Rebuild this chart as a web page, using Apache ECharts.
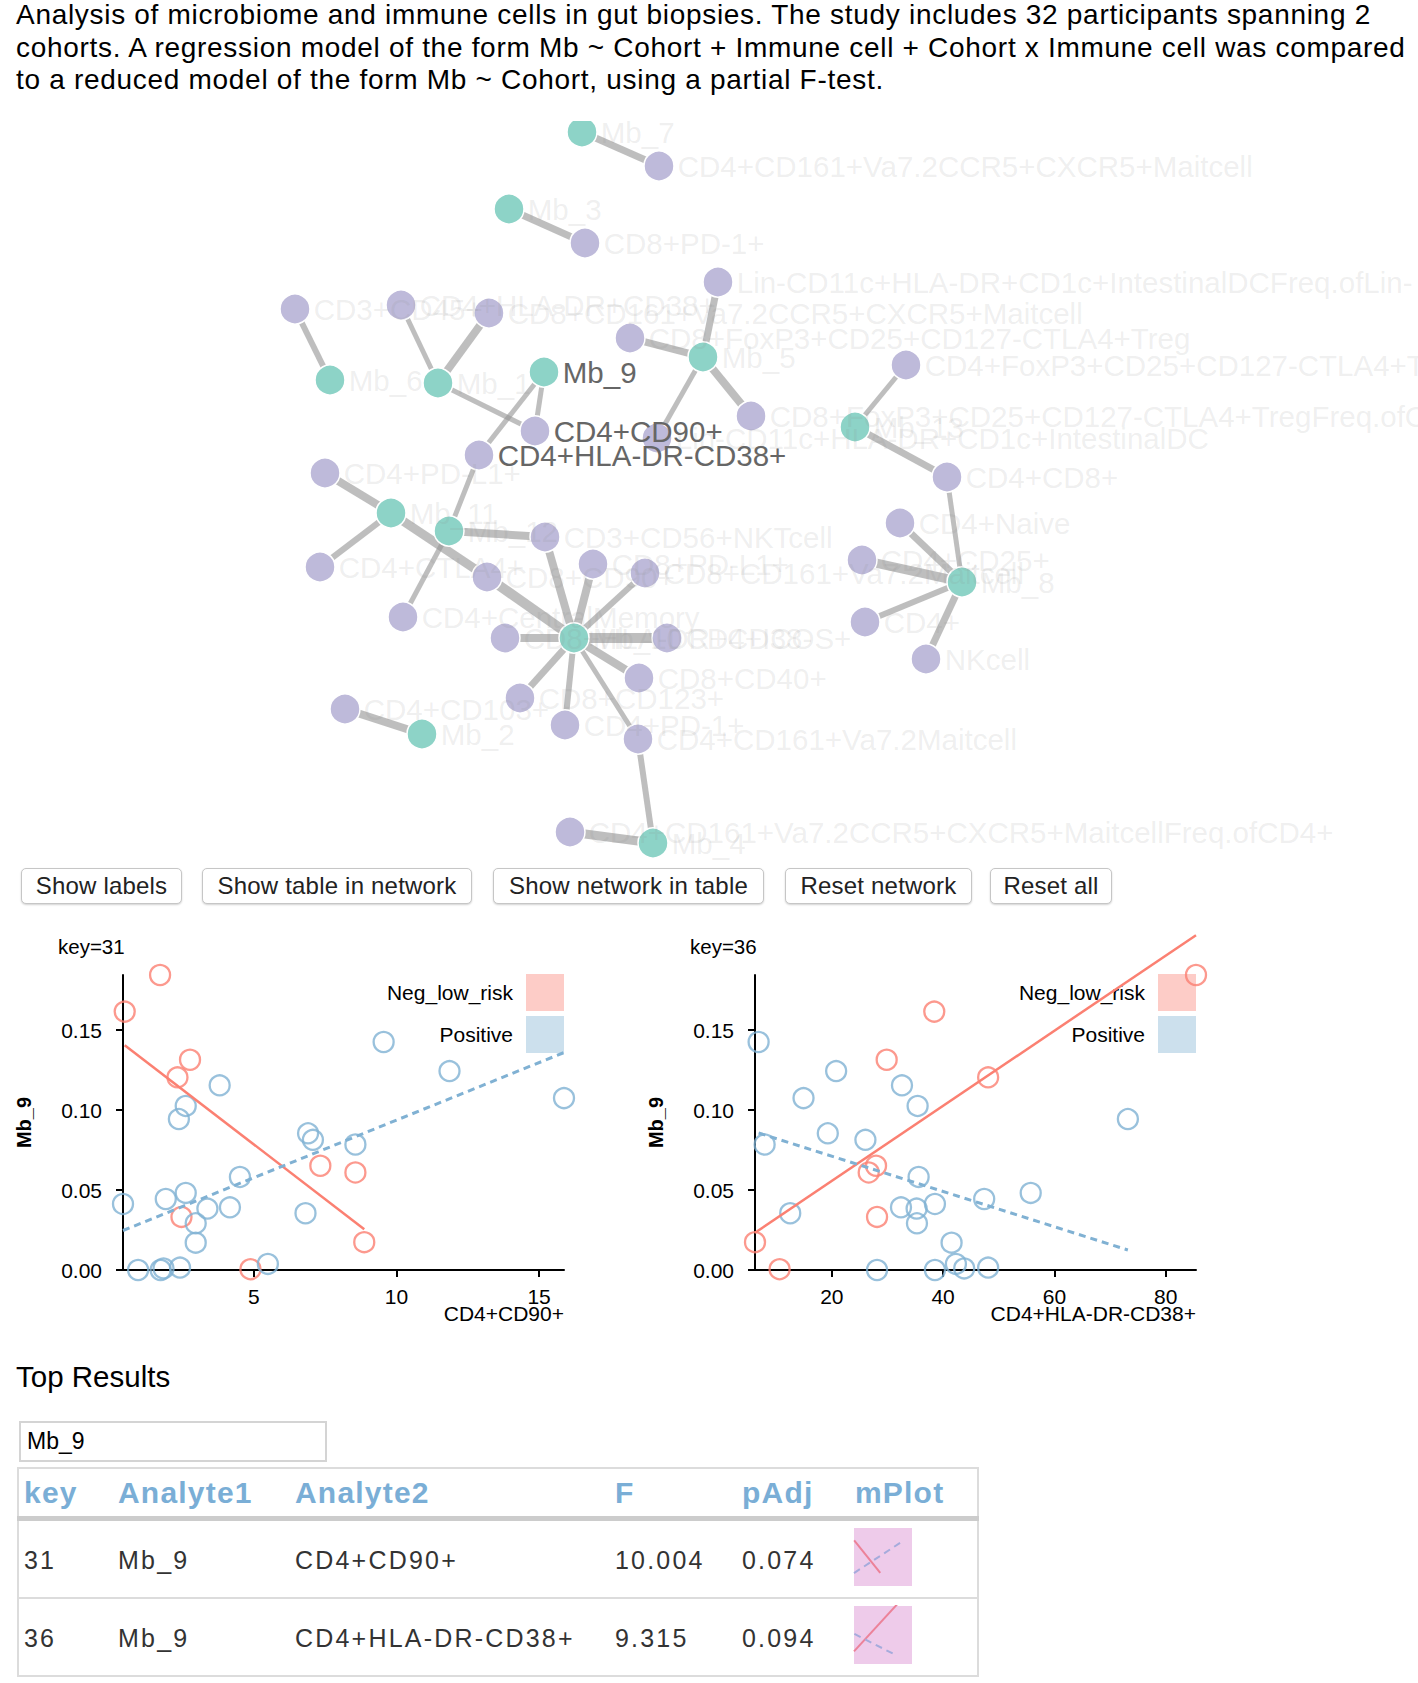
<!DOCTYPE html>
<html>
<head>
<meta charset="utf-8">
<script src="https://cdn.jsdelivr.net/npm/echarts@6/dist/echarts.min.js"></script>
<style>
html,body{margin:0;padding:0;background:#fff;}
body{width:1418px;height:1683px;overflow:hidden;position:relative;font-family:'Liberation Sans',Arial,Helvetica,sans-serif;}
#chart{position:absolute;left:0;top:0;width:1418px;height:1683px;z-index:1;}
#title{position:absolute;left:0;top:0;width:1418px;height:121px;background:#fff;z-index:3;overflow:hidden;}
#title div{position:absolute;left:16px;top:-1px;font-size:28px;line-height:32.5px;letter-spacing:0.7px;white-space:nowrap;color:#000;}
.btn{position:absolute;top:868px;height:36px;box-sizing:border-box;border:1px solid #c6c6c6;border-radius:5px;background:#fff;box-shadow:0 1px 2px rgba(0,0,0,0.18);font-size:24px;line-height:34px;text-align:center;color:#222;z-index:2;white-space:nowrap;letter-spacing:0.2px;}
.ui{position:absolute;z-index:2;white-space:nowrap;}
.th{font-weight:bold;font-size:30px;line-height:30px;top:1478px;color:#7aaed6;letter-spacing:1.2px;}
.td{font-size:25px;line-height:26px;color:#333;letter-spacing:2.2px;}
</style>
</head>
<body>
<div id="chart"></div>
<div id="title"><div>Analysis of microbiome and immune cells in gut biopsies. The study includes 32 participants spanning 2<br>cohorts. A regression model of the form Mb ~ Cohort + Immune cell + Cohort x Immune cell was compared<br>to a reduced model of the form Mb ~ Cohort, using a partial F-test.</div></div>

<div class="btn" style="left:21px;width:161px;">Show labels</div>
<div class="btn" style="left:202px;width:270px;">Show table in network</div>
<div class="btn" style="left:493px;width:271px;">Show network in table</div>
<div class="btn" style="left:785px;width:187px;">Reset network</div>
<div class="btn" style="left:990px;width:122px;">Reset all</div>

<div class="ui" style="left:16px;top:1362px;font-size:29.5px;line-height:30px;color:#000;">Top Results</div>
<div class="ui" style="left:19px;top:1421px;width:308px;height:41px;box-sizing:border-box;border:2px solid #d4d4d4;background:#fff;font-size:23px;line-height:37px;padding-left:6px;color:#000;">Mb_9</div>

<div class="ui" style="left:17px;top:1467px;width:962px;height:210px;box-sizing:border-box;border:2px solid #dcdcdc;z-index:0;"></div>
<div class="ui" style="left:17px;top:1516px;width:962px;height:5px;background:#cccccc;"></div>
<div class="ui" style="left:17px;top:1597px;width:962px;height:2px;background:#dcdcdc;"></div>
<div id="table"></div>

<script>
// ---------------- network data ----------------
const nodeNames = [
  'Mb_7','Mb_3','Mb_6','Mb_1','Mb_9','Mb_5','Mb_13','Mb_11','Mb_12','Mb_10','Mb_8','Mb_2','Mb_4',
  'CD4+CD161+Va7.2CCR5+CXCR5+Maitcell','CD8+PD-1+','Lin-CD11c+HLA-DR+CD1c+IntestinalDCFreq.ofLin-',
  'CD3+CD45+','CD4+HLA-DR+CD38+','CD8+CD161+Va7.2CCR5+CXCR5+Maitcell','CD8+FoxP3+CD25+CD127-CTLA4+Treg',
  'CD8+FoxP3+CD25+CD127-CTLA4+TregFreq.ofCD8+','CD4+FoxP3+CD25+CD127-CTLA4+TregFreq.ofCD4+','CD4+CD90+',
  'Lin-CD11c+HLA-DR+CD1c+IntestinalDC','CD4+HLA-DR-CD38+','CD4+CD8+','CD4+PD-L1+','CD4+Naive',
  'CD3+CD56+NKTcell','CD8+PD-L1+','CD8+CD161+Va7.2Maitcell','CD4+CTLA4+','CD8+CD90+','CD4+CD25+',
  'CD4+CentralMemory','CD8+HLA-DR+CD38-','CD4+ICOS+','CD4+','CD8+CD40+','NKcell','CD8+CD123+',
  'CD4+CD103+','CD4+PD-1+','CD4+CD161+Va7.2Maitcell','CD4+CD161+Va7.2CCR5+CXCR5+MaitcellFreq.ofCD4+'
];
const nodeKind = [
  'mb','mb','mb','mb','mb','mb','mb','mb','mb','mb','mb','mb','mb',
  'cell','cell','cell','cell','cell','cell','cell','cell','cell','cell','cell','cell','cell','cell','cell',
  'cell','cell','cell','cell','cell','cell','cell','cell','cell','cell','cell','cell','cell','cell','cell','cell','cell'
];
// node layout positions (layout units)
const nodeX = [582,509,330,438,544,703,855,391,449,574,962,422,653,
  659,585,718,295,401,489,630,751,906,535,657,479,947,325,900,545,593,645,320,487,862,403,505,667,865,639,926,520,345,565,638,570];
const nodeY = [132,209,380,383,372,357,427,513,531,638,582,734,843,
  166,243,282,309,305,313,338,416,365,431,438,455,477,473,523,537,564,573,567,577,560,617,638,638,622,678,659,698,709,725,739,832];

const edgeSource = ['Mb_7','Mb_3','Mb_6','Mb_1','Mb_1','Mb_1','Mb_9','Mb_9','Mb_5','Mb_5','Mb_5','Mb_5',
  'Mb_13','Mb_13','Mb_8','Mb_8','Mb_8','Mb_8','Mb_8','Mb_11','Mb_11','Mb_11','Mb_12','Mb_12','Mb_12',
  'Mb_10','Mb_10','Mb_10','Mb_10','Mb_10','Mb_10','Mb_10','Mb_10','Mb_10','Mb_10','Mb_2','Mb_4','Mb_4'];
const edgeTarget = ['CD4+CD161+Va7.2CCR5+CXCR5+Maitcell','CD8+PD-1+','CD3+CD45+','CD4+HLA-DR+CD38+',
  'CD8+CD161+Va7.2CCR5+CXCR5+Maitcell','CD4+CD90+','CD4+CD90+','CD4+HLA-DR-CD38+',
  'Lin-CD11c+HLA-DR+CD1c+IntestinalDCFreq.ofLin-','CD8+FoxP3+CD25+CD127-CTLA4+Treg',
  'CD8+FoxP3+CD25+CD127-CTLA4+TregFreq.ofCD8+','Lin-CD11c+HLA-DR+CD1c+IntestinalDC',
  'CD4+FoxP3+CD25+CD127-CTLA4+TregFreq.ofCD4+','CD4+CD8+','CD4+CD8+','CD4+Naive','CD4+CD25+','CD4+','NKcell',
  'CD4+PD-L1+','CD4+CTLA4+','CD8+CD90+','CD4+HLA-DR-CD38+','CD3+CD56+NKTcell','CD4+CentralMemory',
  'CD3+CD56+NKTcell','CD8+PD-L1+','CD8+CD161+Va7.2Maitcell','CD8+CD90+','CD8+HLA-DR+CD38-','CD4+ICOS+',
  'CD8+CD40+','CD8+CD123+','CD4+PD-1+','CD4+CD161+Va7.2Maitcell','CD4+CD103+','CD4+CD161+Va7.2Maitcell',
  'CD4+CD161+Va7.2CCR5+CXCR5+MaitcellFreq.ofCD4+'];
const edgeStrength = [7,7,6,5,8,5,5,5,7,7,8,5,5,7,5,7,9,6,7,8,6,9,5,8,5,8,8,6,10,8,10,8,7,6,5,8,6,9];

const selectedNodes = ['Mb_9','CD4+CD90+','CD4+HLA-DR-CD38+'];

// ---------------- scatter data (32 participants) ----------------
const cohort = ['Neg_low_risk','Neg_low_risk','Neg_low_risk','Neg_low_risk','Neg_low_risk','Neg_low_risk','Neg_low_risk','Neg_low_risk','Neg_low_risk',
  'Positive','Positive','Positive','Positive','Positive','Positive','Positive','Positive','Positive','Positive','Positive','Positive',
  'Positive','Positive','Positive','Positive','Positive','Positive','Positive','Positive','Positive','Positive','Positive'];
const mb9 = [0.1845,0.1616,0.1315,0.1205,0.0332,0.0005,0.0652,0.0610,0.0174,
  0.1426,0.1244,0.1075,0.1155,0.1026,0.0944,0.0855,0.0814,0.0785,0.0582,0.0413,0.0444,
  0.0482,0.0384,0.0392,0.0292,0.0171,0.0355,0.0000,0.0000,0.0010,0.0015,0.0038];
const cd4cd90 = [1.71,0.47,2.76,2.32,2.46,4.88,7.33,8.56,8.87,
  9.55,11.86,15.875,3.80,2.61,2.37,6.90,7.07,8.56,4.51,0.41,1.91,
  2.61,3.37,4.16,2.96,2.96,6.81,0.94,1.73,1.83,2.41,5.49];
const cd4hla = [85.44,38.41,29.86,48.09,28.13,10.62,27.95,26.63,6.2,
  6.85,20.78,14.92,32.61,35.42,73.2,19.28,26.04,7.93,35.60,38.53,47.38,
  55.74,35.24,32.43,35.30,41.52,12.53,28.13,38.53,43.79,48.09,42.30];

// fitted regression lines (end points)
const fit31Neg = [[0.47,0.1406],[8.87,0.0255]];
const fit31Pos = [[0.41,0.0247],[15.875,0.1360]];
const fit36Neg = [[6.2,0.0233],[85.44,0.2094]];
const fit36Pos = [[6.85,0.0857],[73.2,0.0125]];

// ---------------- table data ----------------
const tableKeys = ['31','36'];
const tableAnalyte1 = ['Mb_9','Mb_9'];
const tableAnalyte2 = ['CD4+CD90+','CD4+HLA-DR-CD38+'];
const tableF = ['10.004','9.315'];
const tablePAdj = ['0.074','0.094'];
const tableHeaders = ['key','Analyte1','Analyte2','F','pAdj','mPlot'];

// ---------------- build table text ----------------
(function(){
  const colX = [24,118,295,615,742,855];
  const rowY = [1547,1625];
  let html = '';
  tableHeaders.forEach((h,i)=>{ html += '<div class="ui th" style="left:'+colX[i]+'px;">'+h+'</div>'; });
  const cols = [tableKeys,tableAnalyte1,tableAnalyte2,tableF,tablePAdj];
  for (let r=0;r<tableKeys.length;r++){
    cols.forEach((c,i)=>{ html += '<div class="ui td" style="left:'+colX[i]+'px;top:'+rowY[r]+'px;">'+c[r]+'</div>'; });
  }
  document.getElementById('table').innerHTML = html;
})();

// ---------------- chart ----------------
const FONT = "'Liberation Sans', Arial, Helvetica, sans-serif";
const RED = '#fb8072', BLUE = '#80b1d3';
const TEAL = '#8dd3c7', PURPLE = '#bebada';

function pairs(xs, group){
  const out = [];
  for (let i=0;i<mb9.length;i++) if (cohort[i]===group) out.push([xs[i], mb9[i]]);
  return out;
}
const yMin = Math.min.apply(null, mb9), yMax = Math.max.apply(null, mb9);
const x31Min = Math.min.apply(null, cd4cd90), x31Max = Math.max.apply(null, cd4cd90);
const x36Min = Math.min.apply(null, cd4hla), x36Max = Math.max.apply(null, cd4hla);

function plotXAxis(grid, mn, mx, split){
  return {gridIndex:grid, type:'value', min:mn, max:mx, splitNumber:split, scale:true,
    axisLine:{show:true, onZero:false, lineStyle:{color:'#000', width:2}},
    axisTick:{show:true, length:7, lineStyle:{color:'#000', width:2}},
    axisLabel:{show:true, color:'#000', fontSize:21, fontFamily:FONT, margin:16, showMinLabel:false, showMaxLabel:false},
    splitLine:{show:false}};
}
function plotYAxis(grid){
  return {gridIndex:grid, type:'value', min:yMin, max:yMax, splitNumber:4,
    name:'Mb_9', nameLocation:'middle', nameGap:89, nameRotate:90,
    nameTextStyle:{color:'#000', fontSize:20, fontWeight:'bold', fontFamily:FONT},
    axisLine:{show:true, onZero:false, lineStyle:{color:'#000', width:2}},
    axisTick:{show:true, length:7, lineStyle:{color:'#000', width:2}},
    axisLabel:{show:true, color:'#000', fontSize:21, fontFamily:FONT, margin:21, showMinLabel:true, showMaxLabel:false,
      formatter:v=>v.toFixed(2)},
    splitLine:{show:false}};
}
function hiddenAxis(grid, mn, mx, inverse){
  return {gridIndex:grid, type:'value', min:mn, max:mx, inverse:!!inverse, show:false,
    axisLine:{show:false}, axisTick:{show:false}, axisLabel:{show:false}, splitLine:{show:false}};
}
function scatterSeries(name, xi, data, color){
  return {type:'scatter', name:name, xAxisIndex:xi, yAxisIndex:xi, data:data, symbol:'circle', symbolSize:20,
    itemStyle:{color:'rgba(255,255,255,0)', borderColor:color, borderWidth:2.3}, clip:false, silent:true, z:3};
}
function lineSeries(xi, data, color, dashed, width, clip){
  return {type:'line', xAxisIndex:xi, yAxisIndex:xi, data:data, symbol:'none', showSymbol:false,
    lineStyle:{color:color, width:width, type:dashed?[7,5]:'solid'}, clip:clip, silent:true, z:4, animation:false};
}
function legendFor(rightOffset){
  return {right:rightOffset, top:974, orient:'vertical', align:'right', itemWidth:38, itemHeight:37, itemGap:5,
    padding:0, selectedMode:false, icon:'rect',
    textStyle:{fontSize:21, color:'#000', fontFamily:FONT, padding:[0,8,0,0]},
    data:[{name:'Neg_low_risk', icon:'rect', itemStyle:{color:'rgba(251,128,114,0.5)', borderWidth:0}},
          {name:'Positive', icon:'rect', itemStyle:{color:'rgba(128,177,211,0.5)', borderWidth:0}}]};
}

const graphNodes = nodeNames.map((n,i)=>{
  const sel = selectedNodes.indexOf(n) >= 0;
  return {name:n, value:[nodeX[i], nodeY[i]],
    itemStyle:{color: nodeKind[i]==='mb' ? TEAL : PURPLE},
    label:{color: sel ? '#666666' : 'rgba(140,140,140,0.14)'}};
});
const graphLinks = edgeSource.map((s,i)=>({source:s, target:edgeTarget[i], lineStyle:{width:edgeStrength[i]}}));

const option = {
  animation:false,
  textStyle:{fontFamily:FONT},
  grid:[
    {left:123, top:975, width:441, height:295},
    {left:755, top:975, width:441, height:295},
    {left:854, top:1528, width:48, height:52},
    {left:854, top:1606, width:48, height:52},
    {left:0, top:0, width:1418, height:1683}
  ],
  xAxis:[
    plotXAxis(0, x31Min, x31Max, 3),
    plotXAxis(1, x36Min, x36Max, 4),
    hiddenAxis(2, x31Min, x31Max),
    hiddenAxis(3, x36Min, x36Max),
    hiddenAxis(4, 0, 1418)
  ],
  yAxis:[
    plotYAxis(0),
    plotYAxis(1),
    hiddenAxis(2, yMin, yMax),
    hiddenAxis(3, yMin, yMax),
    hiddenAxis(4, 0, 1683, true)
  ],
  legend:[legendFor(1418-564), legendFor(1418-1196)],
  graphic:[
    {type:'text', x:58, y:946, style:{text:'key=31', fill:'#000', fontSize:20.5, fontFamily:FONT, align:'left', verticalAlign:'middle'}},
    {type:'text', x:690, y:946, style:{text:'key=36', fill:'#000', fontSize:20.5, fontFamily:FONT, align:'left', verticalAlign:'middle'}},
    {type:'text', x:564, y:1313, style:{text:'CD4+CD90+', fill:'#000', fontSize:21, fontFamily:FONT, align:'right', verticalAlign:'middle'}},
    {type:'text', x:1196, y:1313, style:{text:'CD4+HLA-DR-CD38+', fill:'#000', fontSize:21, fontFamily:FONT, align:'right', verticalAlign:'middle'}},
    {type:'rect', shape:{x:854, y:1528, width:58, height:58}, style:{fill:'#eecbea'}, z:0},
    {type:'rect', shape:{x:854, y:1606, width:58, height:58}, style:{fill:'#eecbea'}, z:0}
  ],
  series:[
    {type:'graph', coordinateSystem:'cartesian2d', xAxisIndex:4, yAxisIndex:4, layout:'none',
      data:graphNodes, links:graphLinks, symbol:'circle', symbolSize:30, roam:false, silent:true,
      itemStyle:{borderColor:'#ffffff', borderWidth:1.5},
      lineStyle:{color:'rgba(150,150,150,0.62)', opacity:1, curveness:0},
      label:{show:true, position:'right', distance:3, fontSize:29.5, fontFamily:FONT},
      emphasis:{disabled:true}, z:2},
    scatterSeries('Neg_low_risk', 0, pairs(cd4cd90,'Neg_low_risk'), RED),
    scatterSeries('Positive', 0, pairs(cd4cd90,'Positive'), BLUE),
    scatterSeries('Neg_low_risk', 1, pairs(cd4hla,'Neg_low_risk'), RED),
    scatterSeries('Positive', 1, pairs(cd4hla,'Positive'), BLUE),
    lineSeries(0, fit31Neg, RED, false, 2.5, false),
    lineSeries(0, fit31Pos, BLUE, true, 3, false),
    lineSeries(1, fit36Neg, RED, false, 2.5, false),
    lineSeries(1, fit36Pos, BLUE, true, 3, false),
    lineSeries(2, fit31Neg, '#ec8299', false, 2, true),
    lineSeries(2, fit31Pos, '#a5abdc', true, 2, true),
    lineSeries(3, fit36Neg, '#ec8299', false, 2, true),
    lineSeries(3, fit36Pos, '#a5abdc', true, 2, true)
  ]
};

const chart = echarts.init(document.getElementById('chart'), null, {renderer:'svg', width:1418, height:1683});
chart.setOption(option);
</script>
</body>
</html>
